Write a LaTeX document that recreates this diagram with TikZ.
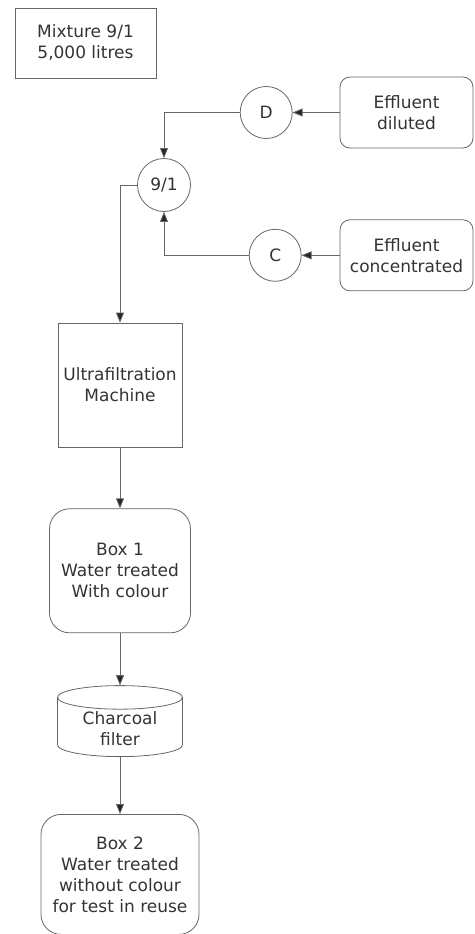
\documentclass[tikz,border=0pt]{standalone}
\usepackage{fontspec}
\setmainfont{DejaVu Sans}
\usetikzlibrary{positioning, arrows.meta, shapes.geometric}
\tikzset{
  sqbox/.style   = {draw=black!60, line width=0.8pt, align=center,
                    text=black!80, inner sep=2pt},
  srcbox/.style  = {draw=black!60, line width=0.8pt, rounded corners=10pt,
                    minimum width=133pt, minimum height=71pt,
                    align=center, text=black!80, inner sep=2pt},
  tankbox/.style = {draw=black!60, line width=0.8pt, rounded corners=20pt,
                    align=center, text=black!80, inner sep=2pt},
  valve/.style   = {draw=black!60, line width=0.8pt, circle,
                    minimum size=52pt, text=black!80, inner sep=1pt},
  filterbox/.style = {draw=black!60, line width=0.8pt, cylinder,
                    shape border rotate=90, aspect=0.3,
                    minimum width=125pt, minimum height=71pt,
                    align=center, text=black!80, inner sep=2pt},
  flow/.style    = {->, draw=black!60, line width=0.8pt},
  >={Triangle[length=10pt, width=8pt, fill=black!85]}
}

\begin{document}
\begin{tikzpicture}[font=\fontsize{17}{21}\selectfont]
  \useasboundingbox (0,0) rectangle (474pt,-934pt);

  % Batch label
  \node[sqbox, minimum width=141pt, minimum height=70pt]
    (mix) at (85.5pt,-43pt) {Mixture 9/1\\5,000 litres};

  % Effluent sources
  \node[srcbox] (dil) at (406.5pt,-112.5pt) {Effluent\\diluted};
  \node[srcbox, below=71pt of dil] (conc) {Effluent\\concentrated};

  % Dosing valves and mixing point
  \node[valve, left=47pt of dil] (D) {D};
  \node[valve, left=38pt of conc] (C) {C};
  \node[valve, minimum size=53pt] (ratio) at (164pt,-185pt) {9/1};

  % Treatment chain
  \node[sqbox, minimum width=124pt, minimum height=124pt]
    (uf) at (120pt,-385pt) {Ultrafiltration\\Machine};
  \node[tankbox, minimum width=141pt, minimum height=124pt, below=61pt of uf]
    (box1) {Box 1\\Water treated\\With colour};
  \node[filterbox, below=52pt of box1] (coal) {Charcoal\\filter};
  \node[tankbox, minimum width=158pt, minimum height=120pt, below=57pt of coal]
    (box2) {Box 2\\Water treated\\without colour\\for test in reuse};

  % Connectors
  \draw[flow] (dil.west) -- (D.east);
  \draw[flow] (conc.west) -- (C.east);
  \draw[flow] (D.west) -| (ratio.north);
  \draw[flow] (C.west) -| (ratio.south);
  \draw[flow] (ratio.west) -| (uf.north);
  \draw[flow] (uf.south) -- (box1.north);
  \draw[flow] (box1.south) -- (coal.north);
  \draw[flow] (coal.south) -- (box2.north);
\end{tikzpicture}
\end{document}
